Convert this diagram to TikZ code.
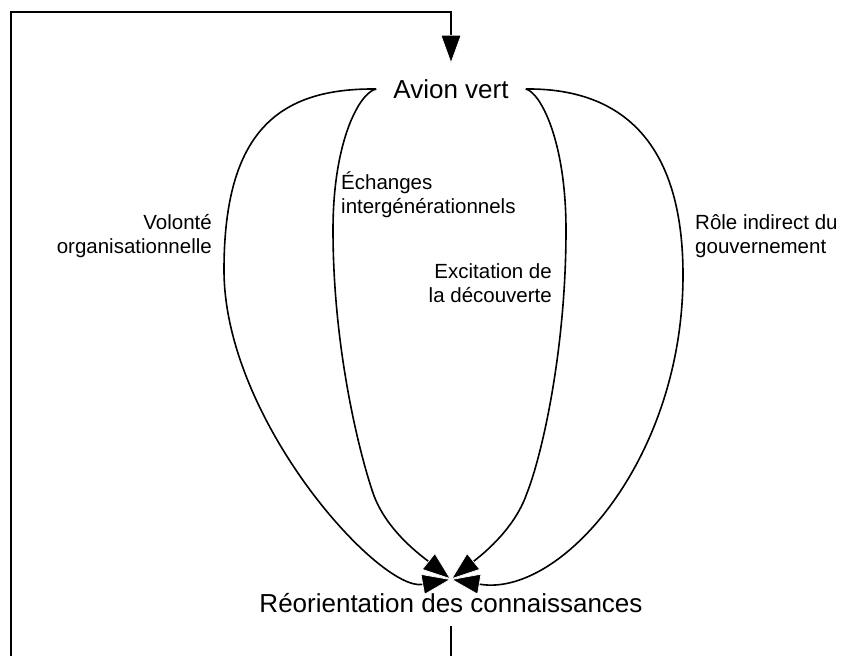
\documentclass[tikz,border=0pt]{standalone}
\usepackage{fontspec}
\setmainfont{Liberation Sans}
\usetikzlibrary{arrows.meta}
\begin{document}
\begin{tikzpicture}[x=1pt,y=-1pt,
  flow/.style={line width=1.6pt,
    -{Triangle[length=29pt,width=21pt,line width=0.7pt,color=white,fill=black]}},
  title/.style={font=\fontsize{26}{30}\selectfont, inner xsep=17pt,
                text height=19pt, text depth=0pt},
  factor/.style={font=\fontsize{20.5}{23.5}\selectfont, inner sep=0pt, align=#1},
]
\useasboundingbox (0,0) rectangle (841,656);
\clip (0,0) rectangle (841,656);

% main concepts
\node[title, inner ysep=15.5pt, anchor=base] (av) at (451,98.5) {Avion vert};
\node[title, inner ysep=13.5pt, anchor=base] (re) at (451,612) {Réorientation des connaissances};

% feedback loop back to the top
\coordinate (loopcorner) at (11,12);
\draw[flow] (re.south) -- ++(0,80) -| (loopcorner) -| (av.north);

% four influence paths
\draw[flow] (av.west) .. controls (280,88) and (224,130) .. (224,270)
            .. controls (224,420) and (380,592) .. (re.north);
\draw[flow] (av.west) .. controls (360,92) and (333,140) .. (333,230)
            .. controls (333,350) and (360,455) .. (373,493)
            .. controls (386,531) and (423,557) .. (re.north);
\draw[flow] (av.east) .. controls (540,92) and (566,140) .. (566,230)
            .. controls (566,350) and (542,455) .. (527,493)
            .. controls (514,531) and (479,557) .. (re.north);
\draw[flow] (av.east) .. controls (615,88) and (683,135) .. (683,275)
            .. controls (683,460) and (560,598) .. (re.north);

% path labels
\node[factor=right, anchor=base east] (vo) at (212,253) {Volonté\\organisationnelle};
\node[factor=left, anchor=base west] (ec) at (341,213) {Échanges\\intergénérationnels};
\node[factor=right, anchor=base east] (ex) at (552,302) {Excitation de\\la découverte};
\node[factor=left, anchor=base west] (ro) at (695,253) {Rôle indirect du\\gouvernement};
\end{tikzpicture}
\end{document}
